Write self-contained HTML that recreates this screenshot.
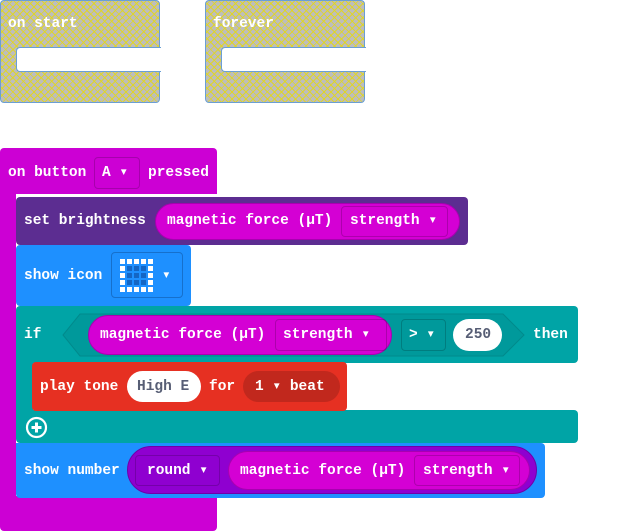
<!DOCTYPE html>
<html><head><meta charset="utf-8"><style>
body{margin:0;width:629px;height:531px;background:#fff;position:relative;overflow:hidden;font-family:"Liberation Mono",monospace;font-weight:bold;font-size:14.5px;color:#fff}
.a{position:absolute;box-sizing:border-box}
.t{position:absolute;white-space:nowrap;line-height:16px}
.dis{background-color:#bdbdbd;background-image:repeating-linear-gradient(45deg,rgba(225,215,30,.9) 0 1px,transparent 1px 5px),repeating-linear-gradient(-45deg,rgba(225,215,30,.9) 0 1px,transparent 1px 5px);border:1px solid #6a9fd4}
.dd{border:1px solid rgba(0,0,0,.18);border-radius:4px}
</style></head><body>

<div class="a dis" style="left:0;top:0;width:160px;height:103px;border-radius:4px"></div>
<div class="a" style="left:16px;top:47px;width:145px;height:25px;background:#fff;border:1px solid #6a9fd4;border-right:none;border-radius:4px 0 0 4px"></div>
<div class="t" style="left:8px;top:16px">on start</div>

<div class="a dis" style="left:205px;top:0;width:160px;height:103px;border-radius:4px"></div>
<div class="a" style="left:221px;top:47px;width:145px;height:25px;background:#fff;border:1px solid #6a9fd4;border-right:none;border-radius:4px 0 0 4px"></div>
<div class="t" style="left:213px;top:16px">forever</div>

<!-- event -->
<div class="a" style="left:0;top:148px;width:217px;height:383px;background:#cc00d4;border-radius:4px"></div>
<div class="t" style="left:8px;top:165px">on button</div>
<div class="a dd" style="left:94px;top:157px;width:46px;height:32px"></div>
<div class="t" style="left:102px;top:165px">A ▾</div>
<div class="t" style="left:148px;top:165px">pressed</div>
<div class="a" style="left:16px;top:194px;width:201px;height:302px;background:#fff"></div>

<!-- set brightness -->
<div class="a" style="left:16px;top:197px;width:452px;height:48px;background:#5c2d91;border-radius:4px"></div>
<div class="t" style="left:24px;top:213px">set brightness</div>
<div class="a" style="left:155px;top:203px;width:305px;height:37px;background:#d400d4;border:1px solid #a800b0;border-radius:19px"></div>
<div class="t" style="left:167px;top:213px">magnetic force (μT)</div>
<div class="a dd" style="left:341px;top:206px;width:107px;height:31px"></div>
<div class="t" style="left:350px;top:213px">strength ▾</div>

<!-- show icon -->
<div class="a" style="left:16px;top:245px;width:175px;height:61px;background:#1e90ff;border-radius:4px"></div>
<div class="t" style="left:24px;top:268px">show icon</div>
<div class="a dd" style="left:111px;top:252px;width:72px;height:46px;border-color:#1670cc"></div>
<svg class="a" style="left:120px;top:259px" width="35" height="35">
<g fill="#fff">
<rect x="0" y="0" width="5" height="5"/><rect x="7" y="0" width="5" height="5"/><rect x="14" y="0" width="5" height="5"/><rect x="21" y="0" width="5" height="5"/><rect x="28" y="0" width="5" height="5"/>
<rect x="0" y="28" width="5" height="5"/><rect x="7" y="28" width="5" height="5"/><rect x="14" y="28" width="5" height="5"/><rect x="21" y="28" width="5" height="5"/><rect x="28" y="28" width="5" height="5"/>
<rect x="0" y="7" width="5" height="5"/><rect x="0" y="14" width="5" height="5"/><rect x="0" y="21" width="5" height="5"/>
<rect x="28" y="7" width="5" height="5"/><rect x="28" y="14" width="5" height="5"/><rect x="28" y="21" width="5" height="5"/>
</g>
<g fill="#1466c4">
<rect x="7" y="7" width="5" height="5"/><rect x="14" y="7" width="5" height="5"/><rect x="21" y="7" width="5" height="5"/>
<rect x="7" y="14" width="5" height="5"/><rect x="14" y="14" width="5" height="5"/><rect x="21" y="14" width="5" height="5"/>
<rect x="7" y="21" width="5" height="5"/><rect x="14" y="21" width="5" height="5"/><rect x="21" y="21" width="5" height="5"/>
</g></svg>
<div class="t" style="left:162px;top:268px">▾</div>

<!-- if -->
<div class="a" style="left:16px;top:306px;width:562px;height:57px;background:#00a4a6;border-radius:4px"></div>
<div class="a" style="left:16px;top:350px;width:17px;height:70px;background:#00a4a6"></div>
<div class="a" style="left:16px;top:410px;width:562px;height:33px;background:#00a4a6;border-radius:0 4px 4px 4px"></div>
<div class="t" style="left:24px;top:327px">if</div>
<svg class="a" style="left:60px;top:312px" width="466" height="47"><polygon points="20,2 443,2 464,23 443,44 20,44 3,23" fill="#00999b" stroke="#008a8c"/></svg>
<div class="a" style="left:88px;top:315px;width:304px;height:40px;background:#d400d4;border:1px solid #a800b0;border-radius:20px"></div>
<div class="t" style="left:100px;top:327px">magnetic force (μT)</div>
<div class="a dd" style="left:275px;top:319px;width:112px;height:32px"></div>
<div class="t" style="left:283px;top:327px">strength ▾</div>
<div class="a dd" style="left:401px;top:319px;width:45px;height:32px"></div>
<div class="t" style="left:409px;top:327px">&gt; ▾</div>
<div class="a" style="left:453px;top:319px;width:49px;height:32px;background:#fff;border-radius:16px"></div>
<div class="t" style="left:465px;top:327px;color:#575e75">250</div>
<div class="t" style="left:533px;top:327px">then</div>

<!-- play tone -->
<div class="a" style="left:32px;top:362px;width:315px;height:49px;background:#e63022;border-radius:4px"></div>
<div class="t" style="left:40px;top:379px">play tone</div>
<div class="a" style="left:127px;top:371px;width:74px;height:31px;background:#fff;border-radius:16px"></div>
<div class="t" style="left:137px;top:379px;color:#575e75">High E</div>
<div class="t" style="left:209px;top:379px">for</div>
<div class="a" style="left:243px;top:371px;width:97px;height:31px;background:#c1281d;border-radius:16px"></div>
<div class="t" style="left:255px;top:379px">1 ▾ beat</div>
<svg class="a" style="left:25px;top:416px" width="23" height="23"><circle cx="11.5" cy="11.5" r="9.5" fill="none" stroke="#fff" stroke-width="2.2"/><path d="M11.5 6.5v10M6.5 11.5h10" stroke="#fff" stroke-width="3"/></svg>

<!-- show number -->
<div class="a" style="left:16px;top:443px;width:529px;height:55px;background:#1e90ff;border-radius:0 4px 4px 4px"></div>
<div class="t" style="left:24px;top:463px">show number</div>
<div class="a" style="left:127px;top:446px;width:410px;height:48px;background:#8f00d0;border:1px solid #7000a8;border-radius:24px"></div>
<div class="a dd" style="left:135px;top:455px;width:85px;height:31px"></div>
<div class="t" style="left:147px;top:463px">round ▾</div>
<div class="a" style="left:228px;top:451px;width:302px;height:39px;background:#d400d4;border:1px solid #a800b0;border-radius:20px"></div>
<div class="t" style="left:240px;top:463px">magnetic force (μT)</div>
<div class="a dd" style="left:414px;top:455px;width:106px;height:31px"></div>
<div class="t" style="left:423px;top:463px">strength ▾</div>
</body></html>
